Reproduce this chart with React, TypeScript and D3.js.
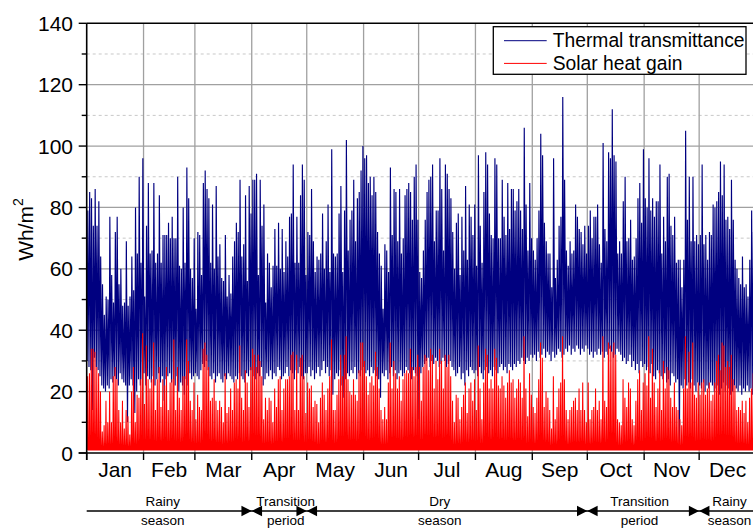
import React from "react";
import * as d3 from "d3";

// Calendar
const monthNames = ["Jan", "Feb", "Mar", "Apr", "May", "Jun", "Jul", "Aug", "Sep", "Oct", "Nov", "Dec"];
const monthDays = [31, 28, 31, 30, 31, 30, 31, 31, 30, 31, 30, 31];

// Daily afternoon peak of the thermal transmittance load (Wh/m²), one row per month
const thermalPeakByMonth = [
  [79, 85, 83, 74, 86, 74, 82, 64, 55, 45, 51, 50, 77, 58, 49, 72, 77, 55, 60, 48, 49, 69, 48, 51, 64, 53, 80, 65, 90, 62, 96],
  [51, 74, 88, 65, 66, 88, 62, 65, 84, 62, 71, 71, 71, 75, 70, 77, 70, 70, 90, 61, 60, 80, 62, 93, 83, 60, 57, 70],
  [47, 72, 71, 58, 88, 92, 86, 83, 62, 81, 60, 87, 64, 68, 57, 56, 71, 51, 58, 52, 64, 69, 75, 72, 89, 64, 68, 84, 56, 87, 78],
  [89, 89, 91, 58, 89, 74, 81, 49, 65, 62, 54, 61, 73, 61, 75, 60, 73, 59, 69, 64, 77, 78, 94, 62, 77, 62, 84, 94, 89, 58],
  [72, 71, 86, 69, 59, 64, 63, 65, 78, 60, 69, 81, 59, 99, 65, 64, 65, 78, 87, 59, 79, 102, 66, 76, 79, 89, 69, 83, 85, 92, 100],
  [96, 97, 88, 90, 84, 90, 85, 72, 65, 61, 47, 68, 66, 59, 93, 71, 86, 85, 69, 86, 65, 70, 84, 86, 88, 85, 76, 90, 94, 76],
  [59, 57, 66, 76, 85, 89, 90, 94, 69, 79, 79, 96, 86, 66, 94, 91, 86, 83, 72, 60, 75, 78, 58, 77, 66, 87, 63, 81, 77, 71, 81],
  [61, 97, 74, 62, 85, 98, 94, 78, 71, 70, 96, 94, 70, 70, 89, 77, 71, 88, 73, 86, 86, 79, 82, 86, 79, 73, 106, 81, 66, 88, 70],
  [66, 63, 70, 79, 104, 97, 75, 69, 65, 65, 54, 96, 57, 63, 74, 77, 116, 89, 66, 61, 69, 65, 66, 81, 77, 73, 72, 68, 74, 65],
  [74, 79, 70, 77, 77, 81, 68, 62, 101, 73, 69, 98, 96, 112, 97, 95, 65, 69, 65, 82, 90, 69, 70, 76, 63, 64, 70, 83, 88, 75, 99],
  [83, 80, 96, 79, 83, 77, 82, 82, 94, 65, 77, 69, 90, 91, 74, 71, 77, 62, 63, 63, 54, 63, 105, 76, 90, 69, 90, 69, 71, 68],
  [71, 94, 68, 71, 63, 72, 71, 81, 80, 82, 85, 95, 84, 94, 76, 77, 73, 89, 76, 63, 60, 57, 55, 64, 54, 55, 51, 63, 79, 72, 66],
];

// Daily early-morning minimum of the thermal transmittance load (Wh/m²)
const thermalTroughByMonth = [
  [30, 28, 27, 14, 31, 28, 27, 25, 22, 21, 20, 22, 21, 24, 23, 25, 24, 22, 26, 24, 23, 22, 10, 22, 24, 22, 13, 20, 24, 22, 24],
  [26, 22, 25, 24, 23, 25, 22, 24, 26, 23, 25, 17, 24, 25, 26, 23, 24, 22, 25, 20, 23, 22, 19, 24, 22, 26, 24, 25],
  [26, 25, 24, 27, 29, 28, 30, 27, 25, 24, 26, 23, 25, 26, 24, 23, 25, 24, 26, 25, 24, 23, 25, 24, 26, 25, 24, 23, 26, 25, 27],
  [27, 25, 24, 26, 25, 28, 22, 24, 26, 25, 27, 24, 26, 25, 28, 27, 24, 25, 26, 28, 25, 27, 26, 24, 27, 26, 28, 25, 24, 26],
  [26, 28, 25, 27, 24, 26, 28, 25, 27, 30, 26, 28, 25, 27, 19, 24, 26, 25, 27, 22, 18, 24, 26, 25, 27, 26, 28, 24, 26, 25, 27],
  [28, 26, 27, 25, 28, 26, 27, 25, 24, 18, 26, 25, 27, 24, 26, 28, 25, 27, 24, 26, 27, 25, 26, 28, 27, 26, 24, 27, 26, 25],
  [11, 26, 28, 29, 30, 31, 28, 30, 29, 31, 30, 28, 29, 31, 30, 28, 29, 30, 28, 27, 25, 26, 28, 24, 26, 22, 27, 25, 28, 27, 26],
  [27, 25, 28, 26, 24, 27, 28, 26, 27, 25, 28, 27, 26, 28, 29, 27, 28, 26, 29, 28, 27, 29, 28, 30, 29, 31, 30, 29, 31, 30, 32],
  [31, 32, 30, 33, 31, 32, 34, 31, 33, 32, 30, 33, 31, 32, 34, 33, 31, 32, 34, 33, 35, 32, 34, 33, 35, 34, 32, 34, 33, 35],
  [34, 32, 33, 31, 33, 32, 34, 32, 33, 31, 33, 32, 34, 33, 31, 32, 34, 33, 32, 30, 31, 29, 30, 32, 28, 30, 27, 29, 26, 30, 28],
  [29, 27, 28, 26, 29, 25, 24, 27, 26, 25, 24, 26, 23, 24, 22, 26, 25, 23, 24, 2, 22, 21, 24, 22, 23, 21, 24, 22, 20, 23],
  [22, 21, 23, 20, 22, 21, 23, 22, 20, 21, 22, 19, 21, 23, 20, 22, 21, 19, 20, 22, 21, 20, 22, 19, 21, 20, 22, 20, 21, 19, 21],
];

// Daily midday peak of the solar heat gain (Wh/m²)
const solarPeakByMonth = [
  [25, 26, 34, 34, 33, 28, 26, 20, 7, 9, 17, 10, 20, 10, 25, 28, 24, 14, 10, 17, 8, 14, 12, 6, 20, 28, 10, 19, 18, 24, 39],
  [16, 35, 24, 21, 24, 36, 14, 24, 28, 15, 24, 22, 28, 14, 23, 24, 37, 14, 28, 18, 14, 25, 25, 37, 30, 17, 14, 23],
  [11, 19, 15, 14, 34, 36, 32, 28, 17, 18, 24, 17, 14, 17, 15, 10, 26, 13, 15, 21, 14, 23, 24, 21, 35, 18, 14, 27, 23, 15, 28],
  [34, 32, 28, 32, 30, 25, 11, 18, 14, 18, 17, 10, 21, 15, 24, 25, 14, 21, 24, 24, 25, 32, 33, 14, 32, 14, 31, 32, 25, 13],
  [23, 21, 22, 15, 17, 16, 10, 18, 23, 19, 14, 21, 25, 37, 14, 14, 19, 24, 32, 25, 32, 38, 24, 20, 19, 24, 19, 17, 27, 36, 36],
  [30, 25, 19, 23, 25, 22, 33, 28, 21, 14, 11, 15, 11, 23, 36, 21, 30, 26, 21, 25, 17, 24, 26, 27, 26, 34, 28, 25, 28, 32],
  [28, 17, 28, 32, 31, 27, 34, 32, 21, 30, 24, 34, 30, 21, 32, 28, 32, 25, 17, 10, 19, 18, 11, 15, 19, 23, 13, 21, 23, 17, 24],
  [14, 35, 21, 11, 23, 34, 32, 21, 24, 21, 34, 31, 22, 21, 25, 22, 18, 23, 27, 23, 24, 18, 21, 24, 23, 18, 38, 21, 12, 26, 19],
  [15, 13, 18, 24, 36, 31, 15, 20, 18, 14, 8, 25, 11, 15, 21, 23, 38, 24, 14, 11, 14, 15, 17, 18, 14, 21, 14, 23, 14, 10],
  [23, 11, 14, 15, 21, 14, 17, 11, 38, 17, 15, 36, 35, 33, 36, 32, 11, 10, 9, 24, 18, 15, 23, 21, 11, 9, 17, 24, 27, 14, 23],
  [26, 22, 38, 18, 34, 23, 15, 21, 27, 14, 30, 21, 28, 27, 18, 15, 23, 15, 14, 11, 9, 21, 38, 21, 33, 23, 36, 19, 18, 23],
  [19, 23, 24, 19, 21, 23, 17, 19, 23, 30, 32, 27, 36, 35, 28, 30, 28, 32, 24, 22, 14, 15, 14, 17, 13, 17, 10, 18, 21, 26, 20],
];

// Night-time solar heat gain level (Wh/m²)
const solarNight = 1;

// Climatic seasons along the bottom: boundaries at the start of these months
const seasonBoundaryMonths = [3, 4, 9, 11];
const seasonLabels = [
  { lines: ["Rainy", "season"], day: 41.5 },
  { lines: ["Transition", "period"], day: 108.5 },
  { lines: ["Dry", "season"], day: 192.5 },
  { lines: ["Transition", "period"], day: 301.5 },
  { lines: ["Rainy", "season"], day: 350.5 },
];

const yMajorTicks = [0, 20, 40, 60, 80, 100, 120, 140];
const yMinorTicks = [10, 30, 50, 70, 90, 110, 130];

const legendItems = [
  { label: "Thermal transmittance", color: "#000080" },
  { label: "Solar heat gain", color: "#ff0000" },
];

const W = 753;
const H = 528;
const plotLeft = 86.7;
const plotRight = 756;
const plotTop = 23.3;
const plotBottom = 453;
const FONT = "'Liberation Sans', Arial, Helvetica, sans-serif";

export default function App() {
  const x = d3.scaleLinear().domain([0, 365]).range([plotLeft, plotRight]);
  const y = d3.scaleLinear().domain([0, 140]).range([plotBottom, plotTop]);

  const monthStarts = Array.from(d3.cumsum([0, ...monthDays])); // 13 values, 0..365

  const thermalPeak = thermalPeakByMonth.flat();
  const thermalTrough = thermalTroughByMonth.flat();
  const solarPeak = solarPeakByMonth.flat();

  const thermalPts: [number, number][] = [];
  thermalPeak.forEach((p, d) => {
    thermalPts.push([d + 0.25, thermalTrough[d]]);
    thermalPts.push([d + 0.62, p]);
  });
  const solarPts: [number, number][] = [];
  solarPeak.forEach((p, d) => {
    solarPts.push([d + 0.25, solarNight]);
    solarPts.push([d + 0.5, p]);
    solarPts.push([d + 0.75, solarNight]);
  });

  const line = d3
    .line<[number, number]>()
    .x((d) => x(d[0]))
    .y((d) => y(d[1]));

  const gridMajor = yMajorTicks.filter((v) => v > 0 && v < 140);
  const seasonY = 511;

  return (
    <svg
      width={W}
      height={H}
      viewBox={`0 0 ${W} ${H}`}
      style={{ position: "absolute", left: 0, top: 0, display: "block", background: "#fff" }}
      fontFamily={FONT}
    >
      <defs>
        <clipPath id="plot-clip">
          <rect x={plotLeft} y={plotTop} width={plotRight - plotLeft} height={plotBottom - plotTop} />
        </clipPath>
      </defs>

      {/* grid */}
      <g>
        {yMinorTicks.map((v) => (
          <line
            key={`gm${v}`}
            x1={plotLeft}
            x2={plotRight}
            y1={y(v)}
            y2={y(v)}
            stroke="#c8c8c8"
            strokeWidth={1}
            strokeDasharray="3,3"
          />
        ))}
        {gridMajor.map((v) => (
          <line key={`gM${v}`} x1={plotLeft} x2={plotRight} y1={y(v)} y2={y(v)} stroke="#a0a0a0" strokeWidth={1.3} />
        ))}
        {monthStarts.slice(1, 12).map((d) => (
          <line key={`gv${d}`} x1={x(d)} x2={x(d)} y1={plotTop} y2={plotBottom} stroke="#a0a0a0" strokeWidth={1.3} />
        ))}
      </g>

      {/* series */}
      <g clipPath="url(#plot-clip)">
        <path d={line(thermalPts) ?? ""} fill="none" stroke="#000080" strokeWidth={1.15} />
        <path d={line(solarPts) ?? ""} fill="none" stroke="#ff0000" strokeWidth={1.05} />
      </g>

      {/* frame */}
      <g stroke="#000" strokeWidth={1.6} fill="none">
        <line x1={plotLeft} x2={plotLeft} y1={plotTop} y2={plotBottom + 7} />
        <line x1={plotLeft - 8} x2={plotRight} y1={plotBottom} y2={plotBottom} />
        <line x1={plotLeft} x2={plotRight} y1={plotTop} y2={plotTop} />
      </g>

      {/* y axis */}
      <g>
        {yMajorTicks.map((v) => (
          <g key={`yt${v}`}>
            <line x1={plotLeft - 8} x2={plotLeft} y1={y(v)} y2={y(v)} stroke="#000" strokeWidth={1.4} />
            <text x={73} y={y(v) + 7.5} textAnchor="end" fontSize={21} fill="#000">
              {v}
            </text>
          </g>
        ))}
        {yMinorTicks.map((v) => (
          <line key={`ym${v}`} x1={plotLeft - 5} x2={plotLeft} y1={y(v)} y2={y(v)} stroke="#000" strokeWidth={1.4} />
        ))}
        <text transform={`translate(33,229.5) rotate(-90)`} textAnchor="middle" fontSize={21} fill="#000">
          Wh/m
          <tspan fontSize={14} dy={-10}>
            2
          </tspan>
        </text>
      </g>

      {/* x axis */}
      <g>
        {monthStarts.slice(0, 12).map((d) => (
          <line key={`xt${d}`} x1={x(d)} x2={x(d)} y1={plotBottom} y2={plotBottom + 7} stroke="#000" strokeWidth={1.4} />
        ))}
        {monthNames.map((m, i) => (
          <text
            key={m}
            x={x((monthStarts[i] + monthStarts[i + 1]) / 2)}
            y={476.5}
            textAnchor="middle"
            fontSize={21}
            fill="#000"
          >
            {m}
          </text>
        ))}
      </g>

      {/* seasons */}
      <g>
        <line x1={plotLeft} x2={plotRight} y1={seasonY} y2={seasonY} stroke="#000" strokeWidth={1.3} />
        {seasonBoundaryMonths.map((mi) => {
          const c = x(monthStarts[mi]);
          return (
            <g key={`sb${mi}`} fill="#000">
              <polygon points={`${c - 10.3},${seasonY - 5.3} ${c - 10.3},${seasonY + 5.3} ${c},${seasonY}`} />
              <polygon points={`${c + 10.3},${seasonY - 5.3} ${c + 10.3},${seasonY + 5.3} ${c},${seasonY}`} />
            </g>
          );
        })}
        {seasonLabels.map((s, i) => (
          <text key={`sl${i}`} x={x(s.day)} textAnchor="middle" fontSize={13.5} fill="#000">
            <tspan x={x(s.day)} y={506}>
              {s.lines[0]}
            </tspan>
            <tspan x={x(s.day)} y={525}>
              {s.lines[1]}
            </tspan>
          </text>
        ))}
      </g>

      {/* legend */}
      <g>
        <rect x={493.3} y={26.7} width={252.7} height={47.6} fill="#fff" stroke="#000" strokeWidth={1.3} />
        {legendItems.map((it, i) => {
          const ly = 40.7 + i * 22.7;
          return (
            <g key={it.label}>
              <line x1={504} x2={546.7} y1={ly} y2={ly} stroke={it.color} strokeWidth={1} />
              <text x={552.7} y={ly + 6.2} fontSize={19.3} fill="#000">
                {it.label}
              </text>
            </g>
          );
        })}
      </g>
    </svg>
  );
}
